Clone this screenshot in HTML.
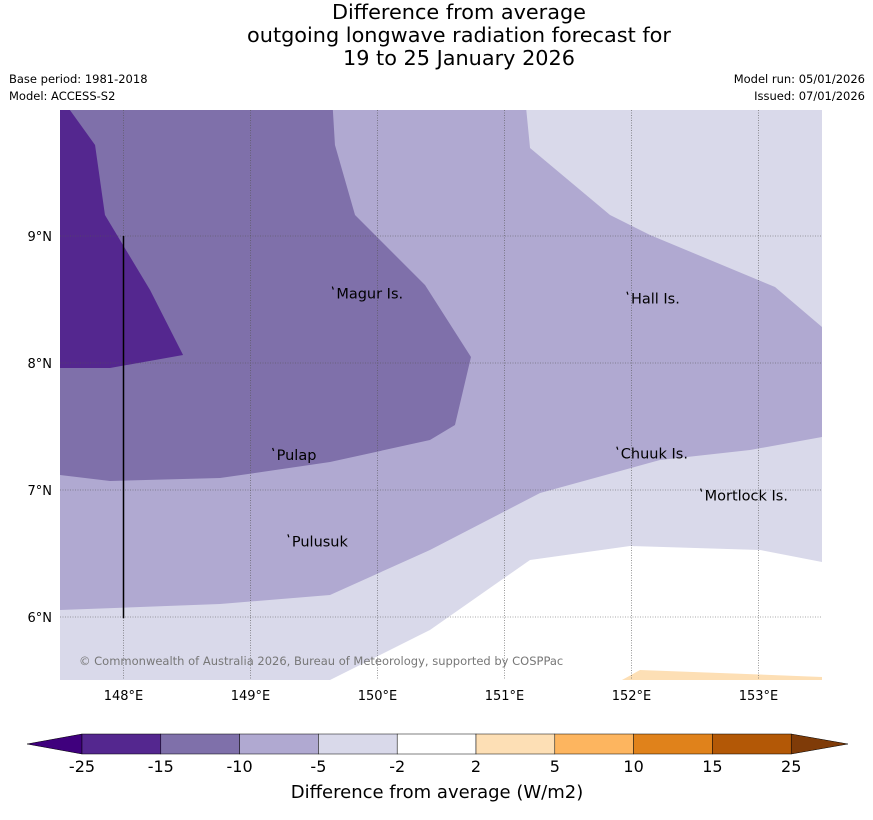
<!DOCTYPE html>
<html><head><meta charset="utf-8"><style>
body{margin:0;background:#fff;width:873px;height:816px;overflow:hidden;font-family:"DejaVu Sans",sans-serif}
</style></head><body>
<svg width="873" height="816" xmlns="http://www.w3.org/2000/svg" font-family="DejaVu Sans, sans-serif">
<g font-size="20.8" text-anchor="middle" fill="#000">
<text x="459" y="19">Difference from average</text>
<text x="459" y="42">outgoing longwave radiation forecast for</text>
<text x="459" y="65">19 to 25 January 2026</text>
</g>
<g font-size="11.5" fill="#000">
<text x="9" y="83">Base period: 1981-2018</text>
<text x="9" y="100">Model: ACCESS-S2</text>
<text x="865" y="83" text-anchor="end">Model run: 05/01/2026</text>
<text x="865" y="100" text-anchor="end">Issued: 07/01/2026</text>
</g>
<defs><clipPath id="mc"><rect x="60" y="110" width="762" height="570"/></clipPath></defs>
<g id="map" clip-path="url(#mc)"></g>
<g id="axes"></g>
<g id="cbar"></g>
</svg>
<script>
const lonTicks=[148,149,150,151,152,153];
const latTicks=[6,7,8,9];
const cbarLabels=["-25","-15","-10","-5","-2","2","5","10","15","25"];
const cbarColors=["#54278f","#7f70aa","#b0a9d1","#d9d9ea","#ffffff","#fddfb5","#fdb55f","#e0821b","#b35806"];
const regWhite=[[149.626,5.3],[149.626,5.504],[150.413,5.898],[151.201,6.449],[151.988,6.559],[153.012,6.528],[153.5,6.433],[153.5,5.3]];
const regOrange=[[151.925,5.3],[151.925,5.504],[152.067,5.583],[153.5,5.528],[153.5,5.3]];
const regB0=[[147.5,10.1],[151.161,10.1],[151.201,9.693],[151.831,9.165],[152.146,9.008],[153.13,8.598],[153.5,8.283],[153.5,7.417],[152.933,7.315],[152.224,7.236],[151.28,6.976],[150.413,6.528],[149.626,6.173],[148.76,6.102],[147.5,6.055]];
const reg7F=[[147.5,10.1],[149.642,10.1],[149.665,9.717],[149.823,9.165],[150.374,8.614],[150.736,8.047],[150.61,7.512],[150.413,7.394],[149.626,7.22],[148.76,7.094],[147.894,7.071],[147.5,7.118]];
const reg54=[[147.5,10.1],[147.776,9.717],[147.854,9.165],[148.209,8.575],[148.469,8.063],[147.894,7.961],[147.5,7.961]];
const places=["Magur Is.","Hall Is.","Pulap","Chuuk Is.","Mortlock Is.","Pulusuk"];
const placeLon=[149.66,151.98,149.19,151.9,152.56,149.31];
const placeLat=[8.57,8.53,7.30,7.31,6.98,6.62];
const lineLon=[148,148];const lineLat=[9,5.99];
const NS="http://www.w3.org/2000/svg";
const xS=lon=>60+(lon-147.5)*127;
const yS=lat=>236-(lat-9)*127;
function mk(t,a,p){const e=document.createElementNS(NS,t);for(const k in a)e.setAttribute(k,a[k]);p.appendChild(e);return e;}
const map=document.getElementById('map'),axes=document.getElementById('axes'),cb=document.getElementById('cbar');
let bg=mk('rect',{x:60,y:110,width:762,height:570,fill:'#d9d9ea'},map);


const regs=[[regWhite,'#ffffff','contour-white'],[regOrange,'#fddfb5','contour-plus2'],[regB0,'#b0a9d1','contour-minus10'],[reg7F,'#7f70aa','contour-minus15'],[reg54,'#54278f','contour-minus25']];
regs.forEach(r=>{const p=mk('polygon',{points:r[0].map(q=>xS(q[0])+','+yS(q[1])).join(' '),fill:r[1]},map);

});
lonTicks.forEach(v=>{const l=mk('line',{x1:xS(v),x2:xS(v),y1:110,y2:680,stroke:'#555',"stroke-width":0.6,"stroke-dasharray":'1,1.5'},map);


const t=mk('text',{x:xS(v),y:700,"font-size":13,"text-anchor":'middle'},axes);t.textContent=v+'°E';

});
latTicks.forEach(v=>{const l=mk('line',{x1:60,x2:822,y1:yS(v),y2:yS(v),stroke:'#555',"stroke-width":0.6,"stroke-dasharray":'1,1.5'},map);


const t=mk('text',{x:52,y:yS(v)+5,"font-size":13,"text-anchor":'end'},axes);t.textContent=v+'°N';

});
const vl=mk('line',{x1:xS(lineLon[0]),x2:xS(lineLon[1]),y1:yS(lineLat[0]),y2:yS(lineLat[1]),stroke:'#000',"stroke-width":1.5},map);


places.forEach((n,i)=>{const x=xS(placeLon[i]),y=yS(placeLat[i]);
const d=mk('path',{d:`M${x-2} ${y-4} l1 3`,stroke:'#000',"stroke-width":1.2,fill:'none'},map);


const t=mk('text',{x:x+2,y:y+8,"font-size":14.5},map);t.textContent=n;

});
const cr=mk('text',{x:79,y:665,"font-size":11.5,fill:'#777'},map);cr.textContent='© Commonwealth of Australia 2026, Bureau of Meteorology, supported by COSPPac';


const x0=82,w=78.8,y0=734,h=20;
const lt=mk('polygon',{points:`27,${y0+h/2} ${x0},${y0} ${x0},${y0+h}`,fill:'#3f007d',stroke:'#000',"stroke-width":0.5},cb);


const rt=mk('polygon',{points:`848,${y0+h/2} ${x0+9*w},${y0} ${x0+9*w},${y0+h}`,fill:'#7f3b08',stroke:'#000',"stroke-width":0.5},cb);


cbarColors.forEach((c,i)=>{const r=mk('rect',{x:x0+i*w,y:y0,width:w,height:h,fill:c,stroke:'#000',"stroke-width":0.5},cb);

});
cbarLabels.forEach((s,i)=>{const t=mk('text',{x:x0+i*w,y:772,"font-size":16,"text-anchor":'middle'},cb);t.textContent=s;

});
const ct=mk('text',{x:437,y:798,"font-size":18,"text-anchor":'middle'},cb);ct.textContent='Difference from average (W/m2)';


</script>
</body></html>
